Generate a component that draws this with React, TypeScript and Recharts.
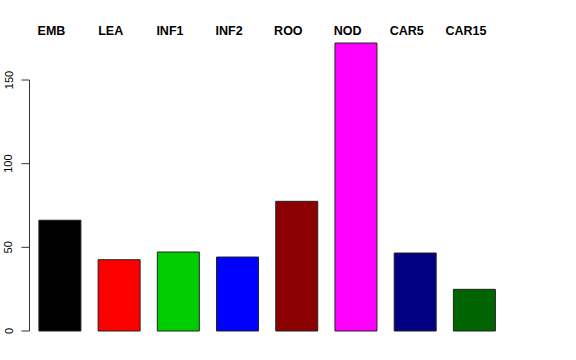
import React from "react";
import { BarChart, Bar, XAxis, YAxis, Cell } from "recharts";

const categories = ["EMB", "LEA", "INF1", "INF2", "ROO", "NOD", "CAR5", "CAR15"];
const values = [66.2, 42.6, 47.2, 44.2, 77.5, 172.1, 46.6, 24.9];
const colors = ["#000000", "#FF0000", "#00CD00", "#0000FF", "#8B0000", "#FF00FF", "#000080", "#006400"];
const yTicks = [0, 50, 100, 150];

const data = categories.map((c, i) => ({ name: c, value: values[i] }));

const W = 576;
const H = 360;

const TopTick = (props: any) => {
  const { x, y, payload } = props;
  return (
    <text
      x={x - 8}
      y={y}
      dy={4.7}
      textAnchor="middle"
      fontFamily="'Liberation Sans', Arial, sans-serif"
      fontWeight="bold"
      fontSize={12.5}
      fill="#000"
    >
      {payload.value}
    </text>
  );
};

const LeftTick = (props: any) => {
  const { y, payload } = props;
  const tx = 12.5;
  return (
    <text
      x={tx}
      y={y}
      transform={`rotate(-90, ${tx}, ${y})`}
      textAnchor="middle"
      fontFamily="'Liberation Sans', Arial, sans-serif"
      fontSize={11}
      fill="#000"
    >
      {payload.value}
    </text>
  );
};

export default function App() {
  return (
    <div style={{ position: "absolute", left: 0, top: 0, width: W, height: H, background: "#fff" }}>
      <div style={{ position: "absolute", left: 0, top: 0 }}>
        <BarChart width={W} height={H} data={data} margin={{ top: 9.8, right: 72.4, bottom: 29, left: 29.9 }}>
          <XAxis
            dataKey="name"
            orientation="top"
            height={20}
            axisLine={false}
            tickLine={false}
            tickSize={0}
            tickMargin={0}
            interval={0}
            tick={<TopTick />}
          />
          <YAxis hide domain={[0, 180]} />
          <Bar dataKey="value" barSize={42} stroke="#222" strokeWidth={1} isAnimationActive={false}>
            {data.map((d, i) => (
              <Cell key={d.name} fill={colors[i]} />
            ))}
          </Bar>
        </BarChart>
      </div>
      <div style={{ position: "absolute", left: 0, top: 0, pointerEvents: "none" }}>
        <BarChart width={W} height={H} data={data} margin={{ top: 80, right: 72.4, bottom: 29, left: 0 }}>
          <XAxis dataKey="name" hide />
          <YAxis
            width={29.5}
            domain={[0, 150]}
            allowDataOverflow
            ticks={yTicks}
            interval={0}
            axisLine={{ stroke: "#333", strokeWidth: 1 }}
            tickLine={{ stroke: "#333", strokeWidth: 1 }}
            tickSize={8}
            tickMargin={0}
            tick={<LeftTick />}
          />
          <Bar dataKey="value" fill="none" stroke="none" isAnimationActive={false} />
        </BarChart>
      </div>
    </div>
  );
}
